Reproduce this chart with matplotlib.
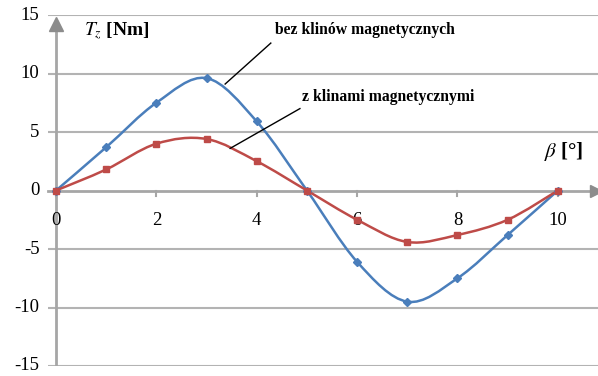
import matplotlib
matplotlib.use("Agg")
import matplotlib.pyplot as plt
from matplotlib.path import Path
from matplotlib.patches import PathPatch

# data
beta = [0, 1, 2, 3, 4, 5, 6, 7, 8, 9, 10]
bez_klinow = [0, 3.7, 7.5, 9.6, 5.9, 0, -6.1, -9.5, -7.5, -3.8, 0]
z_klinami = [0, 1.8, 4.0, 4.4, 2.5, 0, -2.5, -4.4, -3.8, -2.5, 0]
x_ticks = [0, 2, 4, 6, 8, 10]
y_ticks = [-15, -10, -5, 0, 5, 10, 15]

BLUE = "#4a7ebb"
RED = "#be4b48"
GRID = "#b3b3b3"
AXIS = "#a6a6a6"

plt.rcParams['font.family'] = ['Liberation Serif', 'DejaVu Serif']
plt.rcParams['mathtext.fontset'] = 'stix'


def smooth_path(xs, ys):
    # excel-like smoothed line: cubic bezier through the points
    pts = list(zip(xs, ys))
    verts = [pts[0]]
    codes = [Path.MOVETO]
    n = len(pts)
    for i in range(n - 1):
        p0 = pts[i - 1] if i > 0 else pts[i]
        p1 = pts[i]
        p2 = pts[i + 1]
        p3 = pts[i + 2] if i + 2 < n else pts[i + 1]
        c1 = (p1[0] + (p2[0] - p0[0]) / 6, p1[1] + (p2[1] - p0[1]) / 6)
        c2 = (p2[0] - (p3[0] - p1[0]) / 6, p2[1] - (p3[1] - p1[1]) / 6)
        verts += [c1, c2, p2]
        codes += [Path.CURVE4] * 3
    return Path(verts, codes)


fig = plt.figure(figsize=(5.98, 3.76), dpi=100)
ax = fig.add_axes([48 / 598, 10 / 376, 550 / 598, 351 / 376])
ax.set_xlim(-0.16, 10.8)
ax.set_ylim(-15, 15)

for s in ax.spines.values():
    s.set_visible(False)
ax.set_xticks([])
ax.set_yticks([])

# horizontal gridlines
for yv in y_ticks:
    if yv != 0:
        ax.axhline(yv, color=GRID, lw=1.5, zorder=1)
    ax.text(-0.33, yv, str(yv), ha="right", va="center", fontsize=13.5)

# axes with arrows
ax.plot([-0.16, 10.8], [0, 0], color=AXIS, lw=2, zorder=2, clip_on=False)
ax.plot([0, 0], [-15, 14.2], color=AXIS, lw=2, zorder=2)
ax.plot([10.76], [0], marker=">", color="#8c8c8c", ms=9, zorder=3, clip_on=False)
ax.plot([0], [14.2], marker="^", color="#8c8c8c", ms=10, zorder=3, clip_on=False)

for xv in x_ticks:
    ax.plot([xv, xv], [0, -0.45], color=AXIS, lw=1.5, zorder=2)
    ax.text(xv, -2.6, str(xv), ha="center", va="center", fontsize=13.5)

# series
for ys, col, mk, ms in [(bez_klinow, BLUE, "D", 3.6), (z_klinami, RED, "s", 4.2)]:
    ax.add_patch(PathPatch(smooth_path(beta, ys), fill=False, edgecolor=col,
                           lw=1.8, zorder=4))
    ax.plot(beta, ys, ls="none", marker=mk, ms=ms, color=col, zorder=5)

# axis titles
ax.text(0.55, 13.6, r"$T_z$ [Nm]", fontsize=14, fontweight="bold",
        ha="left", va="center")
ax.text(9.72, 3.3, r"$\beta$ [°]", fontsize=15, fontweight="bold",
        ha="left", va="center")

# curve labels with leader lines
ax.text(4.36, 13.7, "bez klinów magnetycznych", fontsize=11.3,
        fontweight="bold", ha="left", va="center")
ax.plot([3.37, 4.28], [9.1, 12.6], color="black", lw=1, zorder=6)
ax.text(4.9, 7.95, "z klinami magnetycznymi", fontsize=11.3,
        fontweight="bold", ha="left", va="center")
ax.plot([3.47, 4.86], [3.6, 7.0], color="black", lw=1, zorder=6)

fig.savefig("out.png", dpi=100)
